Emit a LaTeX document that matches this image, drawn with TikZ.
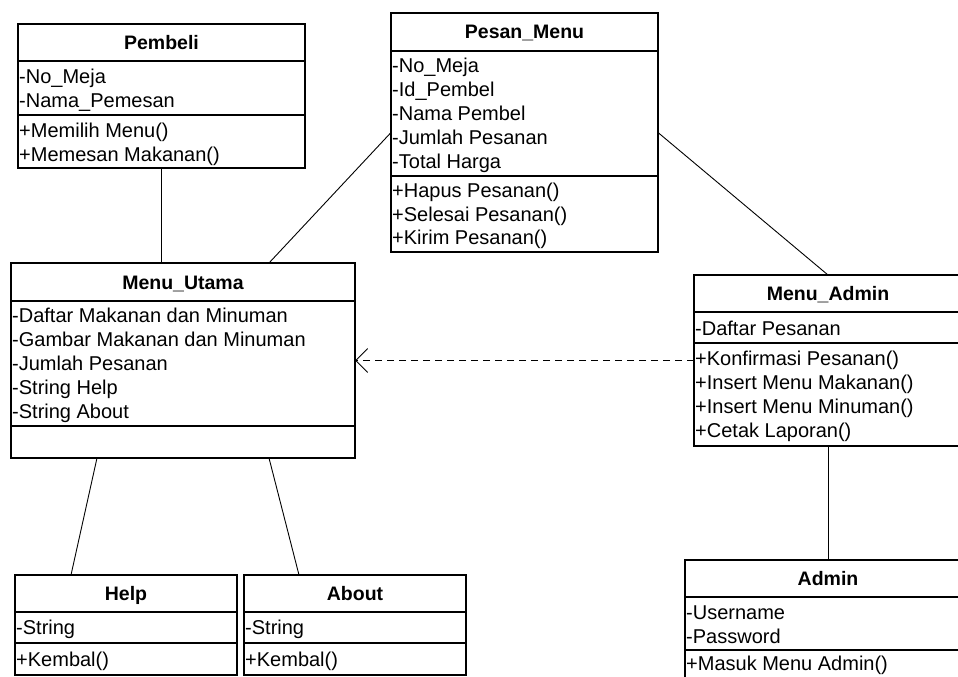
\documentclass[tikz,border=0pt]{standalone}
\usepackage{fontspec}
\setmainfont{Liberation Sans}
\usetikzlibrary{arrows.meta}
\begin{document}
\begin{tikzpicture}[x=1pt,y=-1pt,
  classbox/.style={draw, line width=1.3pt, anchor=north west, inner sep=0pt, outer sep=0pt},
  ctitle/.style={font=\fontsize{19.5}{23}\selectfont\bfseries, inner sep=0pt, anchor=base},
  member/.style={font=\fontsize{20}{24}\selectfont, inner sep=0pt, anchor=base west},
  divider/.style={line width=1.3pt},
  link/.style={line width=0.9pt},
  dep/.style={line width=0.9pt, dash pattern=on 7pt off 5pt,
    -{Straight Barb[length=12pt,width=24pt,line width=0.9pt]}}
]
\useasboundingbox (0,0) rectangle (958,677);
\fill[white] (0,0) rectangle (958,677);

% ---------- class boxes ----------
\node[classbox, minimum width=287pt, minimum height=144pt] (pembeli) at (18,24) {};
\node[classbox, minimum width=267pt, minimum height=239pt] (pesan) at (391,13) {};
\node[classbox, minimum width=344pt, minimum height=195pt] (menuutama) at (11,263) {};
\node[classbox, minimum width=268pt, minimum height=171pt] (menuadmin) at (694,275) {};
\node[classbox, minimum width=222pt, minimum height=100pt] (help) at (15,575) {};
\node[classbox, minimum width=222pt, minimum height=100pt] (about) at (244,575) {};
\node[classbox, minimum width=286pt, minimum height=130pt] (admin) at (685,560) {};

% ---------- compartment lines ----------
\draw[divider] (pembeli.west |- 0,61) -- (pembeli.east |- 0,61);
\draw[divider] (pembeli.west |- 0,115) -- (pembeli.east |- 0,115);
\draw[divider] (pesan.west |- 0,51) -- (pesan.east |- 0,51);
\draw[divider] (pesan.west |- 0,176) -- (pesan.east |- 0,176);
\draw[divider] (menuutama.west |- 0,301) -- (menuutama.east |- 0,301);
\draw[divider] (menuutama.west |- 0,426) -- (menuutama.east |- 0,426);
\draw[divider] (menuadmin.west |- 0,312) -- (menuadmin.east |- 0,312);
\draw[divider] (menuadmin.west |- 0,343) -- (menuadmin.east |- 0,343);
\draw[divider] (help.west |- 0,612) -- (help.east |- 0,612);
\draw[divider] (help.west |- 0,643) -- (help.east |- 0,643);
\draw[divider] (about.west |- 0,612) -- (about.east |- 0,612);
\draw[divider] (about.west |- 0,643) -- (about.east |- 0,643);
\draw[divider] (admin.west |- 0,597) -- (admin.east |- 0,597);
\draw[divider] (admin.west |- 0,650) -- (admin.east |- 0,650);

% ---------- Pembeli ----------
\node[ctitle] (pembeli-t) at (pembeli.north |- 0,50) {Pembeli};
\node[member] (pembeli-a1) at (19,83) {-No\_Meja};
\node[member] (pembeli-a2) at (19,107) {-Nama\_Pemesan};
\node[member] (pembeli-m1) at (19,137) {+Memilih Menu()};
\node[member] (pembeli-m2) at (19,161) {+Memesan Makanan()};

% ---------- Pesan_Menu ----------
\node[ctitle] (pesan-t) at (pesan.north |- 0,39) {Pesan\_Menu};
\node[member] (pesan-a1) at (392,72) {-No\_Meja};
\node[member] (pesan-a2) at (392,96) {-Id\_Pembel};
\node[member] (pesan-a3) at (392,120) {-Nama Pembel};
\node[member] (pesan-a4) at (392,144) {-Jumlah Pesanan};
\node[member] (pesan-a5) at (392,168) {-Total Harga};
\node[member] (pesan-m1) at (392,197) {+Hapus Pesanan()};
\node[member] (pesan-m2) at (392,221) {+Selesai Pesanan()};
\node[member] (pesan-m3) at (392,244) {+Kirim Pesanan()};

% ---------- Menu_Utama ----------
\node[ctitle] (menuutama-t) at (menuutama.north |- 0,289) {Menu\_Utama};
\node[member] (menuutama-a1) at (12,322) {-Daftar Makanan dan Minuman};
\node[member] (menuutama-a2) at (12,346) {-Gambar Makanan dan Minuman};
\node[member] (menuutama-a3) at (12,370) {-Jumlah Pesanan};
\node[member] (menuutama-a4) at (12,394) {-String Help};
\node[member] (menuutama-a5) at (12,418) {-String About};

% ---------- Menu_Admin ----------
\node[ctitle] (menuadmin-t) at (menuadmin.north |- 0,300) {Menu\_Admin};
\node[member] (menuadmin-a1) at (695,335) {-Daftar Pesanan};
\node[member] (menuadmin-m1) at (695,365) {+Konfirmasi Pesanan()};
\node[member] (menuadmin-m2) at (695,389) {+Insert Menu Makanan()};
\node[member] (menuadmin-m3) at (695,413) {+Insert Menu Minuman()};
\node[member] (menuadmin-m4) at (695,437) {+Cetak Laporan()};

% ---------- Help ----------
\node[ctitle] (help-t) at (help.north |- 0,600) {Help};
\node[member] (help-a1) at (16,634) {-String};
\node[member] (help-m1) at (16,666) {+Kembal()};

% ---------- About ----------
\node[ctitle] (about-t) at (about.north |- 0,600) {About};
\node[member] (about-a1) at (245,634) {-String};
\node[member] (about-m1) at (245,666) {+Kembal()};

% ---------- Admin ----------
\node[ctitle] (admin-t) at (admin.north |- 0,585) {Admin};
\node[member] (admin-a1) at (686,619) {-Username};
\node[member] (admin-a2) at (686,643) {-Password};
\node[member] (admin-m1) at (686,670) {+Masuk Menu Admin()};

% ---------- relations ----------
\draw[link] (pembeli.south) -- (pembeli.south |- menuutama.north);
\draw[link] ([xshift=258pt]menuutama.north west) -- (pesan.west);
\draw[link] (pesan.east) -- (menuadmin.north);
\draw[dep] (menuadmin.west) -- (menuutama.east);
\draw[link] ([xshift=86pt]menuutama.south west) -- ([xshift=56pt]help.north west);
\draw[link] ([xshift=258pt]menuutama.south west) -- ([xshift=55pt]about.north west);
\draw[link] (menuadmin.south) -- (admin.north);
\end{tikzpicture}
\end{document}
